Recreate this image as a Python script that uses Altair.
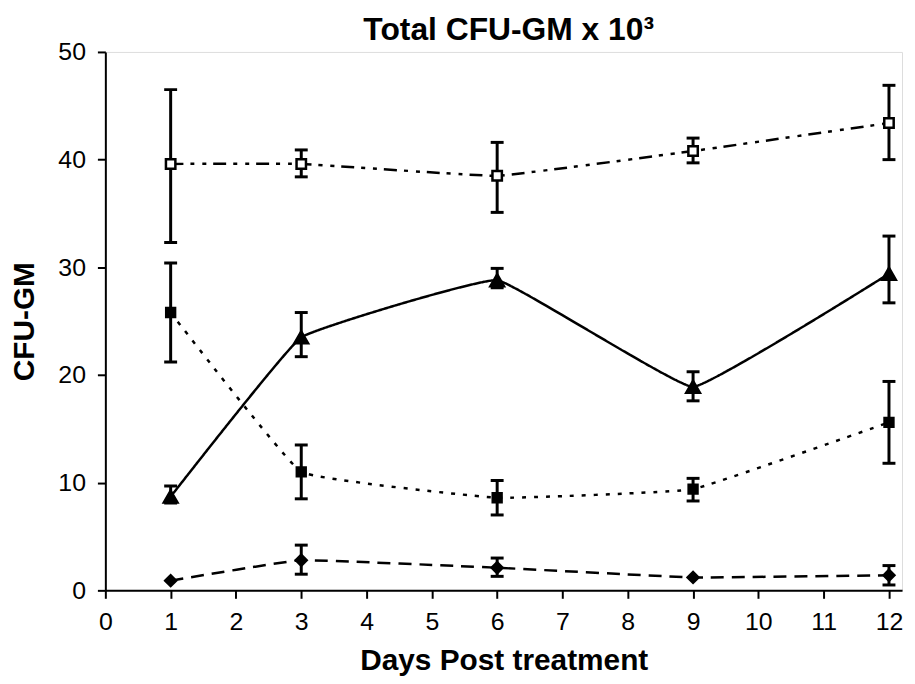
import altair as alt
import pandas as pd

# ---- data ----
days = [1, 3, 6, 9, 12]

open_sq_mean = [39.6, 39.6, 38.5, 40.8, 43.4]
open_sq_lo = [32.3, 38.4, 35.1, 39.7, 40.0]
open_sq_hi = [46.5, 40.9, 41.6, 42.0, 46.9]

tri_mean = [8.7, 23.5, 28.8, 18.9, 29.4]
tri_lo = [8.1, 21.7, 28.1, 17.6, 26.7]
tri_hi = [9.7, 25.8, 29.9, 20.3, 32.9]

fsq_mean = [25.8, 11.0, 8.6, 9.4, 15.6]
fsq_lo = [21.2, 8.5, 7.0, 8.3, 11.8]
fsq_hi = [30.4, 13.5, 10.2, 10.4, 19.4]

dia_mean = [0.9, 2.8, 2.1, 1.2, 1.4]
dia_lo = [None, 1.5, 1.3, None, 0.5]
dia_hi = [None, 4.2, 3.0, None, 2.3]

x_ticks = list(range(0, 13))
y_ticks = [0, 10, 20, 30, 40, 50]

FONT = "Liberation Sans"

series = [
    dict(name="open", mean=open_sq_mean, lo=open_sq_lo, hi=open_sq_hi,
         dash=[13, 7, 4, 8, 4, 7], shape="square", fill="white", size=90),
    dict(name="tri", mean=tri_mean, lo=tri_lo, hi=tri_hi,
         dash=[1, 0], shape="triangle-up", fill="black", size=190),
    dict(name="fsq", mean=fsq_mean, lo=fsq_lo, hi=fsq_hi,
         dash=[4, 8], shape="square", fill="black", size=80),
    dict(name="dia", mean=dia_mean, lo=dia_lo, hi=dia_hi,
         dash=[13, 8], shape="diamond", fill="black", size=120),
]

xscale = alt.Scale(domain=[0, 12.2], nice=False, zero=False)
yscale = alt.Scale(domain=[0, 50], nice=False)
xaxis = alt.Axis(values=x_ticks, title="Days Post treatment", format="d", labelFlush=False)
yaxis = alt.Axis(values=y_ticks, title="CFU-GM", format="d")

err_layers, line_layers, point_layers = [], [], []
for s in series:
    df = pd.DataFrame({"day": days, "mean": s["mean"], "lo": s["lo"], "hi": s["hi"]})
    base = alt.Chart(df)
    x = alt.X("day:Q", scale=xscale, axis=xaxis)
    err = base.transform_filter("isValid(datum.lo)")
    err_layers.append(
        err.mark_rule(color="black", strokeWidth=3, opacity=1).encode(
            x=x, y=alt.Y("lo:Q", scale=yscale, axis=yaxis), y2="hi:Q")
    )
    err_layers.append(
        err.transform_fold(["lo", "hi"], as_=["end", "val"])
        .mark_tick(color="black", orient="horizontal", size=13, thickness=3, opacity=1)
        .encode(x=x, y=alt.Y("val:Q", scale=yscale, axis=yaxis))
    )
    line_layers.append(
        base.mark_line(color="black", strokeWidth=2.5, strokeDash=s["dash"],
                       interpolate="cardinal", tension=0.75, opacity=1)
        .encode(x=x, y=alt.Y("mean:Q", scale=yscale, axis=yaxis))
    )
    point_layers.append(
        base.mark_point(shape=s["shape"], filled=True, fill=s["fill"], stroke="black",
                        strokeWidth=2.5, size=s["size"], opacity=1)
        .encode(x=x, y=alt.Y("mean:Q", scale=yscale, axis=yaxis))
    )

chart = (
    alt.layer(*(err_layers + line_layers + point_layers))
    .properties(
        width=802,
        height=542,
        padding={"left": 98, "top": 42, "right": 5, "bottom": 86},
        autosize=alt.AutoSizeParams(type="none"),
        title=alt.TitleParams(
            "Total CFU-GM x 10³", font=FONT, fontSize=32, fontWeight="bold",
            color="black", anchor="middle", frame="group", baseline="bottom",
            offset=2, dx=5, dy=41,
        ),
    )
    .configure_view(stroke=None)
    .configure(background="white")
    .configure_axis(
        grid=False, domainColor="black", domainWidth=2, tickColor="black",
        tickWidth=2, tickSize=8, labelFont=FONT, labelFontSize=25,
        labelColor="black", labelPadding=11, titleFont=FONT, titleFontSize=30,
        titleFontWeight="bold", titleColor="black",
    )
    .configure_axisY(labelPadding=12, titlePadding=19)
    .configure_axisX(titlePadding=12)
)

chart.save("out.html", embed_options={"renderer": "svg", "actions": False})
